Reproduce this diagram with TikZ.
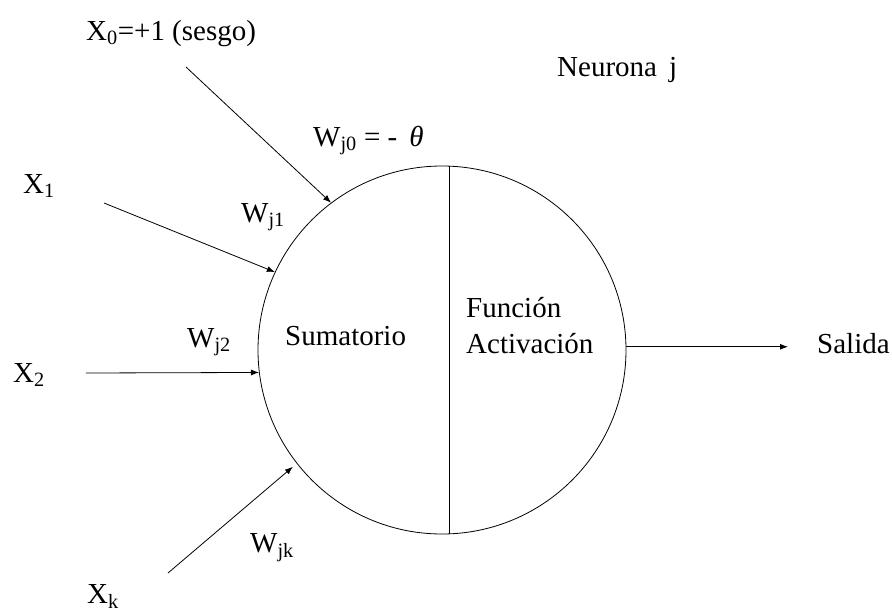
\documentclass[tikz,border=0pt]{standalone}
\usepackage{fontspec}
\setmainfont{Liberation Serif}
\usetikzlibrary{arrows.meta}

\begin{document}
\begin{tikzpicture}[
  x=1pt, y=-1pt,
  lbl/.style={inner sep=0pt, anchor=base west, font=\fontsize{29}{36}\selectfont},
  line/.style={-{Latex[length=8pt,width=6pt]}, line width=0.8pt},
  neuron/.style={draw, circle, line width=0.8pt, minimum size=368pt, inner sep=0pt}
]
\useasboundingbox (0,0) rectangle (892,613);
\node[neuron] (neurona) at (442,350) {};

\node[lbl] (x0) at (86,40) {X\textsubscript{0}=+1 (sesgo)};
\node[lbl] (x1) at (23,193) {X\textsubscript{1}};
\node[lbl] (x2) at (13,382) {X\textsubscript{2}};
\node[lbl] (xk) at (87,603) {X\textsubscript{k}};
\node[lbl] (wj0) at (313,146) {W\textsubscript{j0} = -\, \textit{θ}};
\node[lbl] (wj1) at (241,222) {W\textsubscript{j1}};
\node[lbl] (wj2) at (187,347) {W\textsubscript{j2}};
\node[lbl] (wjk) at (250,552) {W\textsubscript{jk}};
\node[lbl] (suma) at (285,345) {Sumatorio};
\node[lbl, align=left] (func) at (466,353) {Función\\Activación};
\node[lbl] (neur) at (557,76) {Neurona\, j};
\node[lbl] (salida) at (817,353) {Salida};

\coordinate (s0) at (186,67);
\coordinate (s1) at (104,203);
\coordinate (s2) at (86,373);
\coordinate (sk) at (168,573);
\coordinate (out) at (788,346);

\draw[line] (s0) -- (neurona.127);
\draw[line] (s1) -- (neurona.155);
\draw[line] (s2) -- (neurona.187);
\draw[line, shorten >=5pt] (sk) -- (neurona.218);
\draw[line width=0.8pt] ([xshift=7pt]neurona.north) -- ([xshift=7pt]neurona.south);
\draw[line] (neurona.1) -- (neurona.1 -| out);
\end{tikzpicture}
\end{document}
